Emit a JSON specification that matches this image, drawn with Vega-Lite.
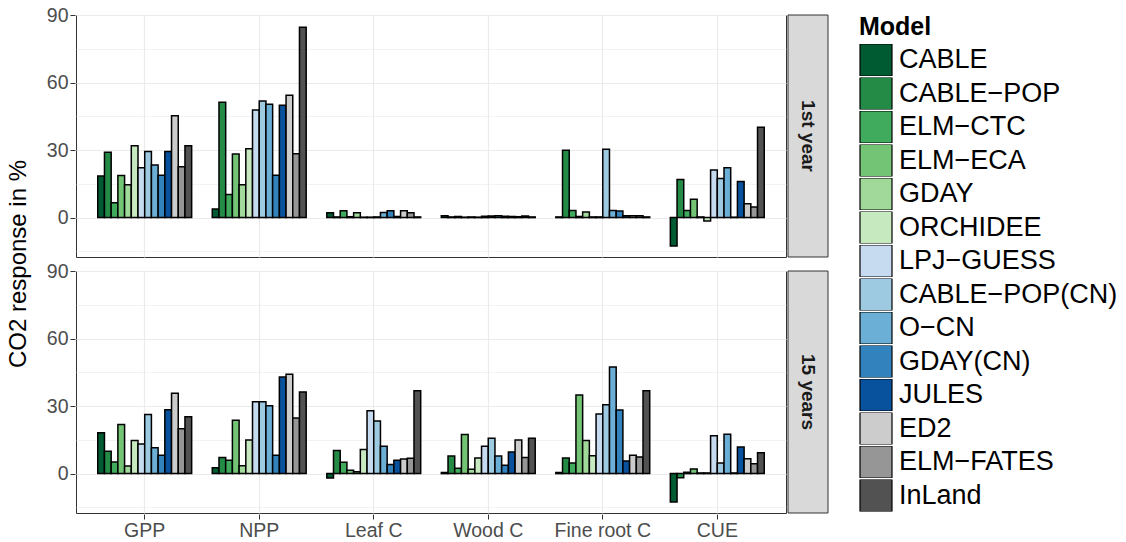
{
  "$schema": "https://vega.github.io/schema/vega-lite/v6.json",
  "padding": {"left": 6, "top": 5, "right": 2, "bottom": 2},
  "background": "white",
  "config": {
    "font": "Liberation Sans",
    "view": {"stroke": "#333333", "strokeWidth": 1}
  },
  "data": {"values": [
    {"period": "1st year", "var": "GPP", "Model": "CABLE", "value": 18.5},
    {"period": "1st year", "var": "GPP", "Model": "CABLE-POP", "value": 29.0},
    {"period": "1st year", "var": "GPP", "Model": "ELM-CTC", "value": 6.6},
    {"period": "1st year", "var": "GPP", "Model": "ELM-ECA", "value": 18.7},
    {"period": "1st year", "var": "GPP", "Model": "GDAY", "value": 14.6},
    {"period": "1st year", "var": "GPP", "Model": "ORCHIDEE", "value": 31.9},
    {"period": "1st year", "var": "GPP", "Model": "LPJ-GUESS", "value": 22.1},
    {"period": "1st year", "var": "GPP", "Model": "CABLE-POP(CN)", "value": 29.4},
    {"period": "1st year", "var": "GPP", "Model": "O-CN", "value": 23.4},
    {"period": "1st year", "var": "GPP", "Model": "GDAY(CN)", "value": 18.8},
    {"period": "1st year", "var": "GPP", "Model": "JULES", "value": 29.4},
    {"period": "1st year", "var": "GPP", "Model": "ED2", "value": 45.3},
    {"period": "1st year", "var": "GPP", "Model": "ELM-FATES", "value": 22.6},
    {"period": "1st year", "var": "GPP", "Model": "InLand", "value": 31.9},
    {"period": "1st year", "var": "NPP", "Model": "CABLE", "value": 3.8},
    {"period": "1st year", "var": "NPP", "Model": "CABLE-POP", "value": 51.2},
    {"period": "1st year", "var": "NPP", "Model": "ELM-CTC", "value": 10.3},
    {"period": "1st year", "var": "NPP", "Model": "ELM-ECA", "value": 28.2},
    {"period": "1st year", "var": "NPP", "Model": "GDAY", "value": 14.6},
    {"period": "1st year", "var": "NPP", "Model": "ORCHIDEE", "value": 30.6},
    {"period": "1st year", "var": "NPP", "Model": "LPJ-GUESS", "value": 47.8},
    {"period": "1st year", "var": "NPP", "Model": "CABLE-POP(CN)", "value": 51.8},
    {"period": "1st year", "var": "NPP", "Model": "O-CN", "value": 50.4},
    {"period": "1st year", "var": "NPP", "Model": "GDAY(CN)", "value": 18.8},
    {"period": "1st year", "var": "NPP", "Model": "JULES", "value": 49.9},
    {"period": "1st year", "var": "NPP", "Model": "ED2", "value": 54.3},
    {"period": "1st year", "var": "NPP", "Model": "ELM-FATES", "value": 28.4},
    {"period": "1st year", "var": "NPP", "Model": "InLand", "value": 84.6},
    {"period": "1st year", "var": "Leaf C", "Model": "CABLE", "value": 2.2},
    {"period": "1st year", "var": "Leaf C", "Model": "CABLE-POP", "value": 0.3},
    {"period": "1st year", "var": "Leaf C", "Model": "ELM-CTC", "value": 3.0},
    {"period": "1st year", "var": "Leaf C", "Model": "ELM-ECA", "value": 0.4},
    {"period": "1st year", "var": "Leaf C", "Model": "GDAY", "value": 2.2},
    {"period": "1st year", "var": "Leaf C", "Model": "ORCHIDEE", "value": 0.2},
    {"period": "1st year", "var": "Leaf C", "Model": "LPJ-GUESS", "value": 0.2},
    {"period": "1st year", "var": "Leaf C", "Model": "CABLE-POP(CN)", "value": 0.3},
    {"period": "1st year", "var": "Leaf C", "Model": "O-CN", "value": 2.3},
    {"period": "1st year", "var": "Leaf C", "Model": "GDAY(CN)", "value": 3.0},
    {"period": "1st year", "var": "Leaf C", "Model": "JULES", "value": 0.5},
    {"period": "1st year", "var": "Leaf C", "Model": "ED2", "value": 3.0},
    {"period": "1st year", "var": "Leaf C", "Model": "ELM-FATES", "value": 2.2},
    {"period": "1st year", "var": "Leaf C", "Model": "InLand", "value": 0.3},
    {"period": "1st year", "var": "Wood C", "Model": "CABLE", "value": 0.8},
    {"period": "1st year", "var": "Wood C", "Model": "CABLE-POP", "value": 0.3},
    {"period": "1st year", "var": "Wood C", "Model": "ELM-CTC", "value": 0.5},
    {"period": "1st year", "var": "Wood C", "Model": "ELM-ECA", "value": 0.2},
    {"period": "1st year", "var": "Wood C", "Model": "GDAY", "value": 0.3},
    {"period": "1st year", "var": "Wood C", "Model": "ORCHIDEE", "value": 0.2},
    {"period": "1st year", "var": "Wood C", "Model": "LPJ-GUESS", "value": 0.6},
    {"period": "1st year", "var": "Wood C", "Model": "CABLE-POP(CN)", "value": 0.7},
    {"period": "1st year", "var": "Wood C", "Model": "O-CN", "value": 0.8},
    {"period": "1st year", "var": "Wood C", "Model": "GDAY(CN)", "value": 0.6},
    {"period": "1st year", "var": "Wood C", "Model": "JULES", "value": 0.5},
    {"period": "1st year", "var": "Wood C", "Model": "ED2", "value": 0.4},
    {"period": "1st year", "var": "Wood C", "Model": "ELM-FATES", "value": 0.7},
    {"period": "1st year", "var": "Wood C", "Model": "InLand", "value": 0.3},
    {"period": "1st year", "var": "Fine root C", "Model": "CABLE", "value": 0.3},
    {"period": "1st year", "var": "Fine root C", "Model": "CABLE-POP", "value": 29.9},
    {"period": "1st year", "var": "Fine root C", "Model": "ELM-CTC", "value": 3.2},
    {"period": "1st year", "var": "Fine root C", "Model": "ELM-ECA", "value": 0.5},
    {"period": "1st year", "var": "Fine root C", "Model": "GDAY", "value": 2.5},
    {"period": "1st year", "var": "Fine root C", "Model": "ORCHIDEE", "value": 0.3},
    {"period": "1st year", "var": "Fine root C", "Model": "LPJ-GUESS", "value": 0.3},
    {"period": "1st year", "var": "Fine root C", "Model": "CABLE-POP(CN)", "value": 30.4},
    {"period": "1st year", "var": "Fine root C", "Model": "O-CN", "value": 3.2},
    {"period": "1st year", "var": "Fine root C", "Model": "GDAY(CN)", "value": 2.9},
    {"period": "1st year", "var": "Fine root C", "Model": "JULES", "value": 0.8},
    {"period": "1st year", "var": "Fine root C", "Model": "ED2", "value": 0.8},
    {"period": "1st year", "var": "Fine root C", "Model": "ELM-FATES", "value": 0.8},
    {"period": "1st year", "var": "Fine root C", "Model": "InLand", "value": 0.3},
    {"period": "1st year", "var": "CUE", "Model": "CABLE", "value": -12.6},
    {"period": "1st year", "var": "CUE", "Model": "CABLE-POP", "value": 16.9},
    {"period": "1st year", "var": "CUE", "Model": "ELM-CTC", "value": 3.2},
    {"period": "1st year", "var": "CUE", "Model": "ELM-ECA", "value": 8.1},
    {"period": "1st year", "var": "CUE", "Model": "GDAY", "value": 0.3},
    {"period": "1st year", "var": "CUE", "Model": "ORCHIDEE", "value": -1.5},
    {"period": "1st year", "var": "CUE", "Model": "LPJ-GUESS", "value": 21.2},
    {"period": "1st year", "var": "CUE", "Model": "CABLE-POP(CN)", "value": 17.4},
    {"period": "1st year", "var": "CUE", "Model": "O-CN", "value": 22.2},
    {"period": "1st year", "var": "CUE", "Model": "GDAY(CN)", "value": 0.2},
    {"period": "1st year", "var": "CUE", "Model": "JULES", "value": 16.0},
    {"period": "1st year", "var": "CUE", "Model": "ED2", "value": 6.2},
    {"period": "1st year", "var": "CUE", "Model": "ELM-FATES", "value": 4.7},
    {"period": "1st year", "var": "CUE", "Model": "InLand", "value": 40.1},
    {"period": "15 years", "var": "GPP", "Model": "CABLE", "value": 18.1},
    {"period": "15 years", "var": "GPP", "Model": "CABLE-POP", "value": 9.9},
    {"period": "15 years", "var": "GPP", "Model": "ELM-CTC", "value": 5.1},
    {"period": "15 years", "var": "GPP", "Model": "ELM-ECA", "value": 21.8},
    {"period": "15 years", "var": "GPP", "Model": "GDAY", "value": 3.4},
    {"period": "15 years", "var": "GPP", "Model": "ORCHIDEE", "value": 14.7},
    {"period": "15 years", "var": "GPP", "Model": "LPJ-GUESS", "value": 13.2},
    {"period": "15 years", "var": "GPP", "Model": "CABLE-POP(CN)", "value": 26.3},
    {"period": "15 years", "var": "GPP", "Model": "O-CN", "value": 11.5},
    {"period": "15 years", "var": "GPP", "Model": "GDAY(CN)", "value": 8.1},
    {"period": "15 years", "var": "GPP", "Model": "JULES", "value": 28.4},
    {"period": "15 years", "var": "GPP", "Model": "ED2", "value": 35.7},
    {"period": "15 years", "var": "GPP", "Model": "ELM-FATES", "value": 19.9},
    {"period": "15 years", "var": "GPP", "Model": "InLand", "value": 25.3},
    {"period": "15 years", "var": "NPP", "Model": "CABLE", "value": 2.6},
    {"period": "15 years", "var": "NPP", "Model": "CABLE-POP", "value": 7.2},
    {"period": "15 years", "var": "NPP", "Model": "ELM-CTC", "value": 5.9},
    {"period": "15 years", "var": "NPP", "Model": "ELM-ECA", "value": 23.7},
    {"period": "15 years", "var": "NPP", "Model": "GDAY", "value": 3.5},
    {"period": "15 years", "var": "NPP", "Model": "ORCHIDEE", "value": 14.9},
    {"period": "15 years", "var": "NPP", "Model": "LPJ-GUESS", "value": 31.9},
    {"period": "15 years", "var": "NPP", "Model": "CABLE-POP(CN)", "value": 31.9},
    {"period": "15 years", "var": "NPP", "Model": "O-CN", "value": 30.1},
    {"period": "15 years", "var": "NPP", "Model": "GDAY(CN)", "value": 8.1},
    {"period": "15 years", "var": "NPP", "Model": "JULES", "value": 42.9},
    {"period": "15 years", "var": "NPP", "Model": "ED2", "value": 44.1},
    {"period": "15 years", "var": "NPP", "Model": "ELM-FATES", "value": 24.7},
    {"period": "15 years", "var": "NPP", "Model": "InLand", "value": 36.3},
    {"period": "15 years", "var": "Leaf C", "Model": "CABLE", "value": -1.9},
    {"period": "15 years", "var": "Leaf C", "Model": "CABLE-POP", "value": 10.3},
    {"period": "15 years", "var": "Leaf C", "Model": "ELM-CTC", "value": 5.0},
    {"period": "15 years", "var": "Leaf C", "Model": "ELM-ECA", "value": 1.5},
    {"period": "15 years", "var": "Leaf C", "Model": "GDAY", "value": 0.8},
    {"period": "15 years", "var": "Leaf C", "Model": "ORCHIDEE", "value": 10.7},
    {"period": "15 years", "var": "Leaf C", "Model": "LPJ-GUESS", "value": 27.9},
    {"period": "15 years", "var": "Leaf C", "Model": "CABLE-POP(CN)", "value": 23.4},
    {"period": "15 years", "var": "Leaf C", "Model": "O-CN", "value": 12.2},
    {"period": "15 years", "var": "Leaf C", "Model": "GDAY(CN)", "value": 4.0},
    {"period": "15 years", "var": "Leaf C", "Model": "JULES", "value": 5.9},
    {"period": "15 years", "var": "Leaf C", "Model": "ED2", "value": 6.5},
    {"period": "15 years", "var": "Leaf C", "Model": "ELM-FATES", "value": 6.8},
    {"period": "15 years", "var": "Leaf C", "Model": "InLand", "value": 36.8},
    {"period": "15 years", "var": "Wood C", "Model": "CABLE", "value": 0.5},
    {"period": "15 years", "var": "Wood C", "Model": "CABLE-POP", "value": 7.8},
    {"period": "15 years", "var": "Wood C", "Model": "ELM-CTC", "value": 2.4},
    {"period": "15 years", "var": "Wood C", "Model": "ELM-ECA", "value": 17.4},
    {"period": "15 years", "var": "Wood C", "Model": "GDAY", "value": 1.9},
    {"period": "15 years", "var": "Wood C", "Model": "ORCHIDEE", "value": 6.9},
    {"period": "15 years", "var": "Wood C", "Model": "LPJ-GUESS", "value": 12.1},
    {"period": "15 years", "var": "Wood C", "Model": "CABLE-POP(CN)", "value": 15.7},
    {"period": "15 years", "var": "Wood C", "Model": "O-CN", "value": 7.8},
    {"period": "15 years", "var": "Wood C", "Model": "GDAY(CN)", "value": 3.7},
    {"period": "15 years", "var": "Wood C", "Model": "JULES", "value": 9.6},
    {"period": "15 years", "var": "Wood C", "Model": "ED2", "value": 14.9},
    {"period": "15 years", "var": "Wood C", "Model": "ELM-FATES", "value": 7.1},
    {"period": "15 years", "var": "Wood C", "Model": "InLand", "value": 15.7},
    {"period": "15 years", "var": "Fine root C", "Model": "CABLE", "value": 0.5},
    {"period": "15 years", "var": "Fine root C", "Model": "CABLE-POP", "value": 6.9},
    {"period": "15 years", "var": "Fine root C", "Model": "ELM-CTC", "value": 4.7},
    {"period": "15 years", "var": "Fine root C", "Model": "ELM-ECA", "value": 34.9},
    {"period": "15 years", "var": "Fine root C", "Model": "GDAY", "value": 14.7},
    {"period": "15 years", "var": "Fine root C", "Model": "ORCHIDEE", "value": 7.9},
    {"period": "15 years", "var": "Fine root C", "Model": "LPJ-GUESS", "value": 26.5},
    {"period": "15 years", "var": "Fine root C", "Model": "CABLE-POP(CN)", "value": 30.6},
    {"period": "15 years", "var": "Fine root C", "Model": "O-CN", "value": 47.4},
    {"period": "15 years", "var": "Fine root C", "Model": "GDAY(CN)", "value": 28.2},
    {"period": "15 years", "var": "Fine root C", "Model": "JULES", "value": 5.6},
    {"period": "15 years", "var": "Fine root C", "Model": "ED2", "value": 8.1},
    {"period": "15 years", "var": "Fine root C", "Model": "ELM-FATES", "value": 7.4},
    {"period": "15 years", "var": "Fine root C", "Model": "InLand", "value": 36.8},
    {"period": "15 years", "var": "CUE", "Model": "CABLE", "value": -12.6},
    {"period": "15 years", "var": "CUE", "Model": "CABLE-POP", "value": -1.8},
    {"period": "15 years", "var": "CUE", "Model": "ELM-CTC", "value": 0.6},
    {"period": "15 years", "var": "CUE", "Model": "ELM-ECA", "value": 2.1},
    {"period": "15 years", "var": "CUE", "Model": "GDAY", "value": 0.3},
    {"period": "15 years", "var": "CUE", "Model": "ORCHIDEE", "value": 0.3},
    {"period": "15 years", "var": "CUE", "Model": "LPJ-GUESS", "value": 16.8},
    {"period": "15 years", "var": "CUE", "Model": "CABLE-POP(CN)", "value": 4.7},
    {"period": "15 years", "var": "CUE", "Model": "O-CN", "value": 17.5},
    {"period": "15 years", "var": "CUE", "Model": "GDAY(CN)", "value": 0.3},
    {"period": "15 years", "var": "CUE", "Model": "JULES", "value": 11.8},
    {"period": "15 years", "var": "CUE", "Model": "ED2", "value": 6.6},
    {"period": "15 years", "var": "CUE", "Model": "ELM-FATES", "value": 4.4},
    {"period": "15 years", "var": "CUE", "Model": "InLand", "value": 9.3}
  ]},
  "spacing": 0,
  "hconcat": [
    {
      "facet": {"row": {"field": "period", "type": "nominal", "sort": ["1st year", "15 years"],
        "header": {"labels": false, "title": "CO2 response in %", "titleOrient": "left", "titleFontSize": 24, "titleFontWeight": "normal", "titleColor": "black", "titleFont": "Liberation Sans", "titlePadding": 5}}},
      "spacing": {"row": 12},
      "spec": {
        "width": 710,
        "height": 242,
        "mark": {"type": "bar", "stroke": "black", "strokeWidth": 1.5},
        "encoding": {
          "x": {
            "field": "var", "type": "nominal", "title": null,
            "sort": ["GPP", "NPP", "Leaf C", "Wood C", "Fine root C", "CUE"],
            "scale": {"paddingInner": 0.18, "paddingOuter": 0.19},
            "axis": {"grid": true, "bandPosition": 0.5, "gridColor": "#ebebeb", "gridWidth": 1.2, "labelAngle": 0, "domain": false, "tickColor": "#333333", "tickSize": 5, "labelFontSize": 19.5, "labelColor": "#4d4d4d", "labelPadding": 2}
          },
          "xOffset": {"field": "Model", "type": "nominal", "sort": ["CABLE", "CABLE-POP", "ELM-CTC", "ELM-ECA", "GDAY", "ORCHIDEE", "LPJ-GUESS", "CABLE-POP(CN)", "O-CN", "GDAY(CN)", "JULES", "ED2", "ELM-FATES", "InLand"]},
          "y": {
            "field": "value", "type": "quantitative", "title": null,
            "scale": {"domain": [-17.5, 90], "nice": false, "zero": false},
            "axis": {
              "values": [-15, 0, 15, 30, 45, 60, 75, 90],
              "labelExpr": "datum.value % 30 === 0 ? datum.label : ''",
              "tickOpacity": {"condition": {"test": "datum.value % 30 === 0", "value": 1}, "value": 0},
              "gridWidth": {"condition": {"test": "datum.value % 30 === 0", "value": 1.2}, "value": 0.6},
              "gridColor": "#ebebeb", "domain": false, "tickColor": "#333333", "tickSize": 5,
              "labelFontSize": 19.5, "labelColor": "#4d4d4d", "labelPadding": 2
            }
          },
          "color": {
            "field": "Model", "type": "nominal",
            "sort": ["CABLE", "CABLE-POP", "ELM-CTC", "ELM-ECA", "GDAY", "ORCHIDEE", "LPJ-GUESS", "CABLE-POP(CN)", "O-CN", "GDAY(CN)", "JULES", "ED2", "ELM-FATES", "InLand"],
            "scale": {
              "domain": ["CABLE", "CABLE-POP", "ELM-CTC", "ELM-ECA", "GDAY", "ORCHIDEE", "LPJ-GUESS", "CABLE-POP(CN)", "O-CN", "GDAY(CN)", "JULES", "ED2", "ELM-FATES", "InLand"],
              "range": ["#005a32", "#238b45", "#41ab5d", "#74c476", "#a1d99b", "#c7e9c0", "#c6dbef", "#9ecae1", "#6baed6", "#3182bd", "#08519c", "#cccccc", "#969696", "#525252"]
            },
            "legend": {
              "title": "Model", "titleFontSize": 25, "titleFontWeight": "bold", "titleColor": "black", "titlePadding": 4,
              "labelFontSize": 27, "labelColor": "black", "labelOffset": 6, "labelLimit": 300,
              "labelExpr": "replace(datum.label, '-', '\u2212')",
              "symbolType": "square", "symbolSize": 1024, "symbolStrokeColor": "black", "symbolStrokeWidth": 1.2, "symbolOpacity": 1,
              "clipHeight": 32, "rowPadding": 1.5, "offset": 30
            }
          }
        }
      }
    },
    {
      "transform": [{"aggregate": [{"op": "count", "as": "n"}], "groupby": ["period"]}],
      "facet": {"row": {"field": "period", "type": "nominal", "sort": ["1st year", "15 years"], "header": null}},
      "spacing": {"row": 12},
      "spec": {
        "width": 40,
        "height": 242,
        "layer": [
          {"mark": {"type": "rect", "fill": "#d9d9d9", "stroke": "#333333", "strokeWidth": 1}, "encoding": {}},
          {"mark": {"type": "text", "angle": 90, "font": "Liberation Sans", "fontWeight": "bold", "fontSize": 19, "color": "#1a1a1a"}, "encoding": {"text": {"field": "period", "type": "nominal"}}}
        ]
      }
    }
  ]
}
